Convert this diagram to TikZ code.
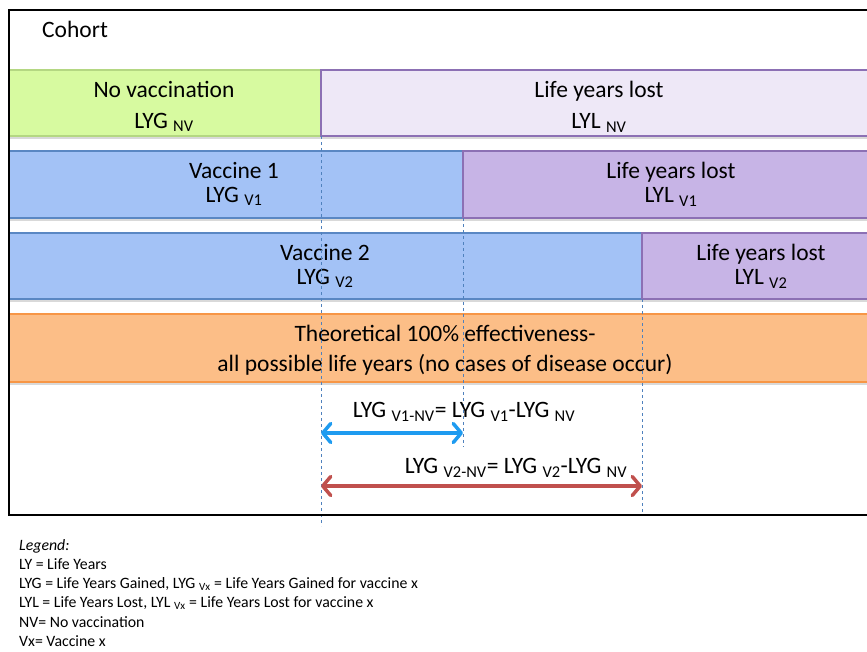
\documentclass[tikz,border=0pt]{standalone}
\usepackage{fontspec}
\setmainfont{Carlito}
\usetikzlibrary{arrows.meta,shadows}
\definecolor{nvgreen}{RGB}{215,250,160}
\definecolor{nvgreenline}{RGB}{180,215,130}
\definecolor{lostlight}{RGB}{238,232,247}
\definecolor{lostdark}{RGB}{199,180,230}
\definecolor{lostline}{RGB}{140,112,180}
\definecolor{vacblue}{RGB}{163,194,246}
\definecolor{vacline}{RGB}{90,135,195}
\definecolor{fullorange}{RGB}{252,190,135}
\definecolor{fullline}{RGB}{247,150,70}
\definecolor{guideblue}{RGB}{79,129,189}
\definecolor{arrblue}{RGB}{30,155,240}
\definecolor{arrred}{RGB}{192,80,77}
\tikzstyle{bar} = [line width=1.2pt, drop shadow={shadow xshift=0pt, shadow yshift=-3pt, opacity=0.3}]
\tikzstyle{lbl} = [align=center, inner sep=0pt, font=\fontsize{23.5}{24}\selectfont]
\tikzstyle{guide} = [dash pattern=on 3pt off 3pt, line width=0.7pt, guideblue]
\tikzstyle{diff} = [line width=3.5pt, line cap=round, <->]
\tikzstyle{leg} = [anchor=west, inner sep=0pt, font=\fontsize{15.8}{19}\selectfont]

\begin{document}
\begin{tikzpicture}[x=1pt, y=-1pt, >={Straight Barb[length=8pt, width=19pt, round]}]
\useasboundingbox (0,0) rectangle (867,651);
\clip (0,0) rectangle (867,651);

% bars
\path[bar, fill=nvgreen, draw=nvgreenline] (9,70) rectangle (321,136);
\path[bar, fill=lostlight, draw=lostline] (321,70) rectangle (880,136);
\path[bar, fill=vacblue, draw=vacline] (9,151) rectangle (463,218);
\path[bar, fill=lostdark, draw=lostline] (463,151) rectangle (880,218);
\path[bar, fill=vacblue, draw=vacline] (9,233) rectangle (642,299);
\path[bar, fill=lostdark, draw=lostline] (642,233) rectangle (880,299);
\path[bar, fill=fullorange, draw=fullline] (9,314) rectangle (880,382);

\node[anchor=west, inner sep=0pt, font=\fontsize{23.5}{24}\selectfont] (cohort) at (42,29) {Cohort};

\node[lbl, font=\fontsize{23.5}{31}\selectfont] (novac) at (164,106.5) {No vaccination\\LYG \textsubscript{NV}};
\node[lbl, font=\fontsize{23.5}{31}\selectfont] (lostnv) at (599,106.5) {Life years lost\\LYL \textsubscript{NV}};
\node[lbl] (vac1) at (234,184) {Vaccine 1\\LYG \textsubscript{V1}};
\node[lbl] (lostv1) at (671,184) {Life years lost\\LYL \textsubscript{V1}};
\node[lbl] (vac2) at (325,266) {Vaccine 2\\LYG \textsubscript{V2}};
\node[lbl] (lostv2) at (761,266) {Life years lost\\LYL \textsubscript{V2}};
\node[lbl, font=\fontsize{23.5}{30}\selectfont] (full) at (445,350) {Theoretical 100\% effectiveness-\\all possible life years (no cases of disease occur)};

% guides
\coordinate (g0) at (321,136);
\coordinate (g0end) at (321,526);
\coordinate (g1) at (463,218);
\coordinate (g1end) at (463,447);
\coordinate (g2) at (642,299);
\coordinate (g2end) at (642,515);
\draw[guide] (g0) -- (g0end);
\draw[guide] (g1) -- (g1end);
\draw[guide] (g2) -- (g2end);

% differences
\coordinate (d1a) at (321,433);
\coordinate (d1b) at (463,433);
\coordinate (d2a) at (321,486);
\coordinate (d2b) at (642,486);
\draw[diff, arrblue] (d1a) -- (d1b);
\draw[diff, arrred] (d2a) -- (d2b);
\node[lbl] (eq1) at (464,412) {LYG \textsubscript{V1-NV}= LYG \textsubscript{V1}-LYG \textsubscript{NV}};
\node[lbl] (eq2) at (516,468) {LYG \textsubscript{V2-NV}= LYG \textsubscript{V2}-LYG \textsubscript{NV}};

\draw[line width=2.4pt] (880,10) -- (9,10) -- (9,515) -- (880,515);

% legend
\node[leg] (legtitle) at (19,546) {\itshape Legend:};
\node[leg] (leg1) at (19,564) {LY = Life Years};
\node[leg] (leg2) at (19,584) {LYG = Life Years Gained, LYG \textsubscript{Vx} = Life Years Gained for vaccine x};
\node[leg] (leg3) at (19,603) {LYL = Life Years Lost, LYL \textsubscript{Vx} = Life Years Lost for vaccine x};
\node[leg] (leg4) at (19,622) {NV= No vaccination};
\node[leg] (leg5) at (19,641) {Vx= Vaccine x};
\end{tikzpicture}
\end{document}
